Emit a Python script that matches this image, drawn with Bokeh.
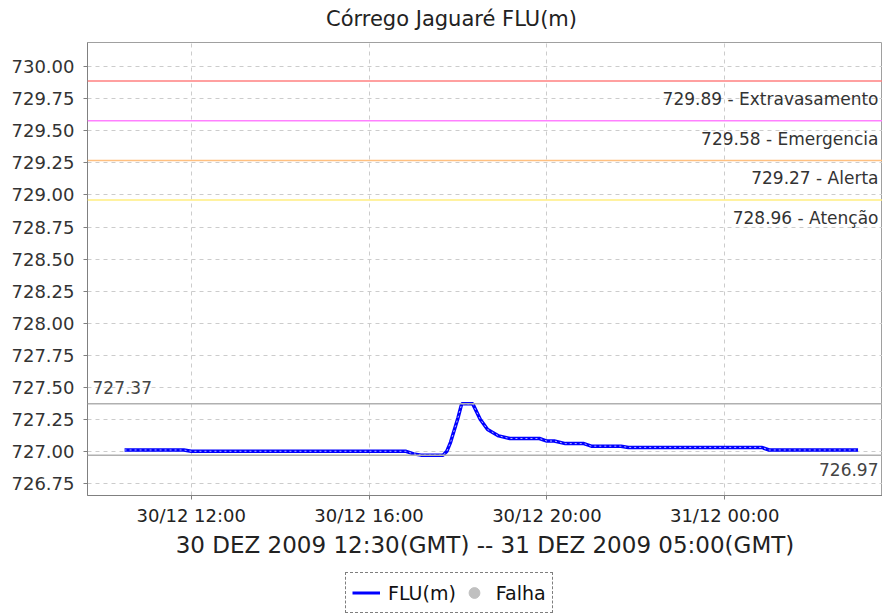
import pandas as pd
from bokeh.plotting import figure
from bokeh.layouts import column
from bokeh.models import (Range1d, FixedTicker, SingleIntervalTicker, DatetimeTickFormatter,
                          NumeralTickFormatter, Span, Label, Legend, LegendItem, ColumnDataSource)
from bokeh.embed import file_html
from bokeh.resources import INLINE

# ---- data (local time) ----
times = ["2009-12-30 10:30", "2009-12-30 11:50", "2009-12-30 12:00", "2009-12-30 16:50",
         "2009-12-30 17:00", "2009-12-30 17:10", "2009-12-30 17:40", "2009-12-30 17:45",
         "2009-12-30 17:50", "2009-12-30 18:00", "2009-12-30 18:05", "2009-12-30 18:20",
         "2009-12-30 18:30", "2009-12-30 18:40", "2009-12-30 18:55", "2009-12-30 19:10",
         "2009-12-30 19:50", "2009-12-30 20:00", "2009-12-30 20:10", "2009-12-30 20:25",
         "2009-12-30 20:50", "2009-12-30 21:00", "2009-12-30 21:40", "2009-12-30 21:50",
         "2009-12-31 00:50", "2009-12-31 01:00", "2009-12-31 03:00"]
levels = [727.01, 727.01, 727.00, 727.00,
          726.98, 726.97, 726.97, 727.00,
          727.07, 727.26, 727.37, 727.37,
          727.25, 727.17, 727.12, 727.10,
          727.10, 727.08, 727.08, 727.06,
          727.06, 727.04, 727.04, 727.03,
          727.03, 727.01, 727.01]

threshold_values = [729.89, 729.58, 729.27, 728.96]
threshold_names = ["Extravasamento", "Emergencia", "Alerta", "Atenção"]
threshold_colors = ["#ff8080", "#ff80ff", "#ffc080", "#ffee80"]

max_value = 727.37
min_value = 726.97

x_tick_times = ["2009-12-30 12:00", "2009-12-30 16:00", "2009-12-30 20:00", "2009-12-31 00:00"]
x_start, x_end = "2009-12-30 09:40", "2009-12-31 03:33"
y_start, y_end = 726.655, 730.19

title = "Córrego Jaguaré FLU(m)"
x_label = "30 DEZ 2009 12:30(GMT) -- 31 DEZ 2009 05:00(GMT)"
legend_labels = ["FLU(m)", "Falha"]

FONT = "DejaVu Sans"

t = pd.to_datetime(times)
src = ColumnDataSource(dict(x=t, y=levels))
xs = pd.Timestamp(x_start)
xe = pd.Timestamp(x_end)


def strip(height):
    f = figure(width=882, height=height, output_backend="svg", toolbar_location=None,
               x_range=Range1d(0, 1), y_range=Range1d(0, 1),
               x_axis_location=None, y_axis_location=None, min_border=0)
    f.grid.visible = False
    f.outline_line_color = None
    f.background_fill_color = "white"
    f.border_fill_color = "white"
    return f


# ---- title strip ----
top = strip(41)
top.add_layout(Label(x=364, y=23, x_units="screen", y_units="screen", text=title,
                     text_align="center", text_baseline="middle",
                     text_font=FONT, text_font_size="21px", text_color="#222222"))

# ---- main chart ----
p = figure(frame_width=795, frame_height=453, output_backend="svg", toolbar_location=None,
           x_axis_type="datetime",
           x_range=Range1d(xs, xe), y_range=Range1d(y_start, y_end),
           min_border_left=87, min_border_right=0, min_border_top=1, min_border_bottom=72)

p.outline_line_color = "#a0a0a0"
p.background_fill_color = "white"
p.border_fill_color = "white"

for g in (p.xgrid[0], p.ygrid[0]):
    g.grid_line_color = "#cccccc"
    g.grid_line_dash = "4 4"
    g.grid_line_width = 1

# y axis
p.yaxis.ticker = SingleIntervalTicker(interval=0.25, num_minor_ticks=0)
p.yaxis.formatter = NumeralTickFormatter(format="0.00")
p.yaxis.major_label_text_font = FONT
p.yaxis.major_label_text_font_size = "18px"
p.yaxis.major_label_text_color = "#333333"
p.yaxis.major_label_standoff = 9

# x axis
tick_ms = list((pd.to_datetime(x_tick_times) - pd.Timestamp("1970-01-01")) // pd.Timedelta(milliseconds=1))
p.xaxis.ticker = FixedTicker(ticks=tick_ms)
fmt = "%d/%m %H:%M"
p.xaxis.formatter = DatetimeTickFormatter(minutes=fmt, hourmin=fmt, hours=fmt, days=fmt)
p.xaxis.major_label_text_font = FONT
p.xaxis.major_label_text_font_size = "18px"
p.xaxis.major_label_text_color = "#222222"
p.xaxis.major_label_standoff = 5
p.xaxis.axis_label = x_label
p.xaxis.axis_label_text_font = FONT
p.xaxis.axis_label_text_font_size = "23px"
p.xaxis.axis_label_text_font_style = "normal"
p.xaxis.axis_label_text_color = "#222222"
p.xaxis.axis_label_standoff = 3

for ax in (p.xaxis[0], p.yaxis[0]):
    ax.axis_line_color = "#808080"
    ax.major_tick_line_color = "#808080"
    ax.major_tick_out = 4
    ax.major_tick_in = 0
    ax.minor_tick_line_color = None

# threshold lines and labels
for v, name, c in zip(threshold_values, threshold_names, threshold_colors):
    p.add_layout(Span(location=v, dimension="width", line_color=c, line_width=1.5))
    p.add_layout(Label(x=xe, y=v, text=f"{v:.2f} - {name}", text_align="right",
                       text_baseline="top", x_offset=-4, y_offset=-8,
                       text_font=FONT, text_font_size="17px", text_color="#333333"))

# max / min reference lines
p.add_layout(Span(location=max_value, dimension="width", line_color="#b0b0b0", line_width=1.5))
p.add_layout(Span(location=min_value, dimension="width", line_color="#b0b0b0", line_width=1.5))
p.add_layout(Label(x=xs, y=max_value, text=f"{max_value:.2f}", text_align="left",
                   text_baseline="bottom", x_offset=5, y_offset=10,
                   text_font=FONT, text_font_size="17px", text_color="#444444"))
p.add_layout(Label(x=xe, y=min_value, text=f"{min_value:.2f}", text_align="right",
                   text_baseline="top", x_offset=-4, y_offset=-8,
                   text_font=FONT, text_font_size="17px", text_color="#444444"))

# series
p.line("x", "y", source=src, line_color="#0000ff", line_width=3.5)
p.line("x", "y", source=src, line_color="white", line_width=1, line_dash="2 3", line_alpha=0.7)

# ---- legend strip below the chart ----
lg = strip(47)
empty = ColumnDataSource(dict(x=[float("nan")], y=[float("nan")]))
flu_r = lg.line("x", "y", source=empty, line_color="#0000ff", line_width=3)
falha_r = lg.scatter("x", "y", source=empty, marker="circle", size=10, color="#c0c0c0")

legend = Legend(items=[LegendItem(label=legend_labels[0], renderers=[flu_r]),
                       LegendItem(label=legend_labels[1], renderers=[falha_r])],
                orientation="horizontal", location=(258, 1))
legend.label_text_font = FONT
legend.label_text_font_size = "19px"
legend.label_text_color = "#111111"
legend.border_line_color = "black"
legend.border_line_dash = "3 2"
legend.border_line_width = 1
legend.background_fill_color = "white"
legend.padding = 6
legend.spacing = 4
legend.label_standoff = 8
legend.glyph_width = 28
legend.glyph_height = 27
legend.margin = 0
lg.add_layout(legend, "center")

layout = column(top, p, lg, spacing=0)
open("out.html", "w").write(file_html(layout, INLINE))
